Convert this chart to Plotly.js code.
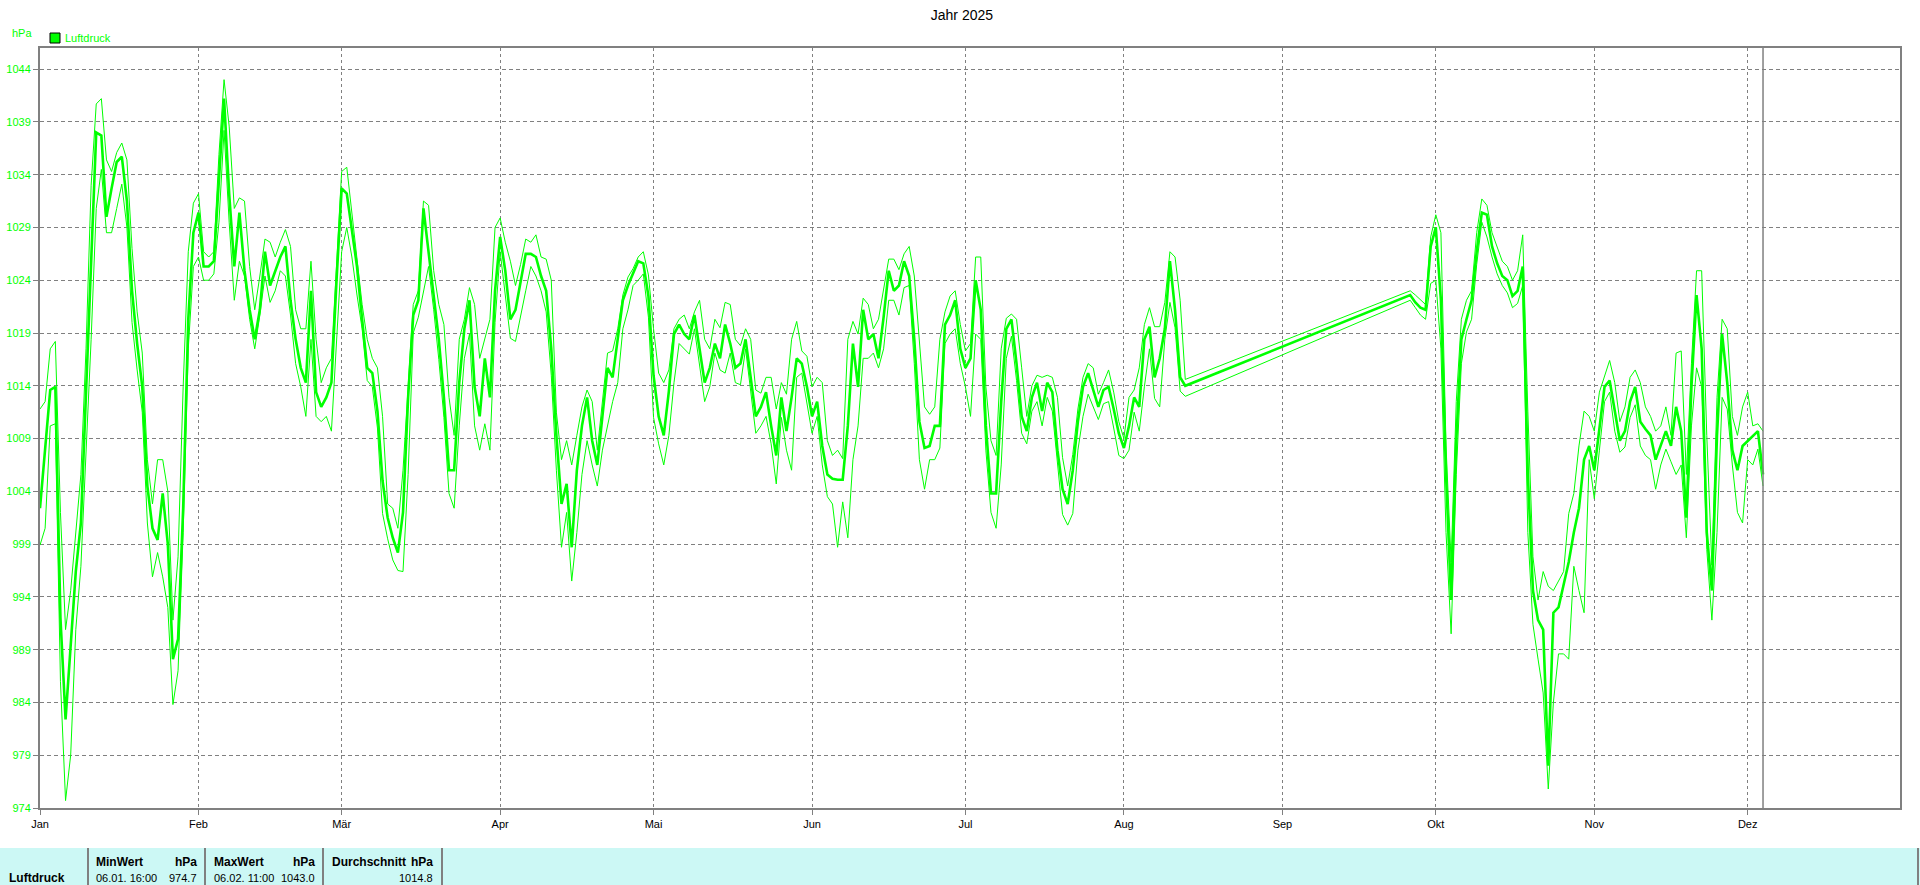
<!DOCTYPE html>
<html>
<head>
<meta charset="utf-8">
<script src="https://cdn.plot.ly/plotly-3.0.1.min.js"></script>
<style>
html,body{margin:0;padding:0;background:#fff;overflow:hidden;}
#chart{width:1920px;height:885px;}
</style>
</head>
<body>
<div id="chart"></div>
<script>
// ---------- DATA ----------
const chartTitle = 'Jahr 2025';
const unitLabel = 'hPa';
const seriesName = 'Luftdruck';
const monthTicks = ['2025-01-01','2025-02-01','2025-03-01','2025-04-01','2025-05-01','2025-06-01','2025-07-01','2025-08-01','2025-09-01','2025-10-01','2025-11-01','2025-12-01'];
const monthLabels = ['Jan','Feb','Mär','Apr','Mai','Jun','Jul','Aug','Sep','Okt','Nov','Dez'];
const yTicks = [974,979,984,989,994,999,1004,1009,1014,1019,1024,1029,1034,1039,1044];

// block 1: daily values from 2025-01-01 to 2025-08-13
const block1Start = '2025-01-01';
const avg1 = [1002.4,1007.9,1013.6,1013.9,992.0,982.4,989.5,996.4,1001.0,1013.9,1027.0,1038.0,1037.7,1030.0,1032.7,1035.2,1035.7,1031.5,1023.0,1018.0,1013.9,1004.5,1000.5,999.4,1003.8,999.0,988.1,990.0,1002.4,1020.3,1028.5,1030.4,1025.3,1025.3,1025.8,1034.0,1041.2,1032.2,1025.3,1030.4,1024.9,1021.2,1018.4,1021.2,1026.7,1023.5,1024.9,1026.2,1027.2,1022.1,1018.4,1015.7,1014.3,1023.0,1013.4,1012.0,1012.9,1014.3,1024.0,1032.7,1032.2,1028.5,1025.3,1020.3,1015.7,1015.2,1011.6,1005.0,1001.5,999.6,998.2,1002.0,1012.9,1020.7,1022.1,1030.8,1026.7,1022.1,1018.4,1012.9,1006.0,1006.0,1014.3,1019.4,1022.1,1013.9,1011.1,1016.6,1012.9,1023.0,1028.1,1024.9,1020.3,1021.2,1024.0,1026.5,1026.5,1026.2,1024.4,1023.0,1017.5,1009.3,1002.8,1004.7,998.7,1006.0,1010.2,1012.9,1008.8,1006.5,1011.1,1015.7,1014.8,1018.4,1022.1,1023.5,1024.7,1025.8,1025.6,1022.5,1015.0,1011.1,1009.3,1013.5,1018.9,1019.8,1018.9,1018.4,1020.7,1017.5,1014.3,1015.7,1018.0,1016.6,1019.8,1018.0,1015.7,1016.1,1018.4,1014.8,1011.1,1012.0,1013.4,1010.2,1007.4,1012.9,1009.7,1012.9,1016.6,1016.1,1013.9,1011.1,1012.5,1008.3,1005.6,1005.2,1005.1,1005.1,1010.2,1018.0,1013.9,1021.2,1018.4,1018.9,1016.6,1020.5,1024.9,1023.0,1023.5,1025.8,1024.4,1018.4,1010.6,1008.1,1008.3,1010.2,1010.2,1019.8,1020.7,1022.1,1017.5,1015.7,1016.6,1024.0,1021.2,1010.2,1003.8,1003.8,1012.5,1019.4,1020.3,1016.1,1011.1,1009.7,1012.9,1014.3,1011.6,1014.3,1013.4,1007.9,1004.2,1002.8,1006.0,1010.6,1013.9,1015.2,1013.6,1012.0,1013.6,1013.9,1011.8,1009.5,1008.1,1010.2,1012.9,1012.0,1018.4,1019.6,1014.8,1016.6,1019.4,1025.8,1021.2,1014.8,1014.0];
const max1 = [1011.8,1012.5,1017.5,1018.2,1002.0,990.9,994.6,1000.1,1005.6,1017.5,1033.0,1040.7,1041.2,1035.4,1034.3,1036.1,1037.0,1035.4,1027.0,1021.0,1017.1,1007.0,1002.8,1007.0,1007.0,1004.0,991.8,997.8,1013.9,1026.7,1031.3,1032.2,1026.7,1026.2,1026.7,1035.9,1043.0,1038.6,1030.8,1031.8,1031.5,1025.3,1021.2,1024.4,1027.9,1027.6,1026.2,1027.6,1028.8,1027.2,1021.2,1019.4,1019.4,1025.8,1018.4,1014.3,1015.7,1016.6,1025.8,1034.3,1034.7,1030.4,1025.8,1021.7,1018.4,1016.6,1015.7,1011.1,1002.8,1002.4,1000.5,1006.0,1013.9,1021.7,1023.0,1031.5,1031.1,1024.9,1021.7,1019.8,1012.9,1009.3,1018.4,1020.3,1023.3,1021.7,1016.6,1018.4,1020.3,1029.0,1029.9,1027.6,1025.8,1023.5,1025.5,1027.9,1027.6,1028.3,1026.2,1026.0,1024.0,1011.5,1007.0,1008.8,1006.5,1009.3,1012.0,1013.6,1012.5,1007.9,1012.5,1017.1,1017.3,1019.4,1022.6,1024.3,1025.1,1026.2,1026.7,1024.5,1019.4,1015.2,1014.3,1015.5,1019.4,1020.3,1020.7,1019.4,1021.0,1022.1,1018.4,1017.5,1020.3,1019.5,1021.9,1021.7,1018.4,1017.8,1019.4,1018.4,1013.6,1013.3,1014.8,1014.8,1011.8,1014.3,1013.2,1018.4,1020.1,1017.3,1016.8,1013.9,1014.8,1014.3,1008.8,1007.4,1007.9,1007.1,1018.4,1020.1,1018.9,1022.3,1021.7,1019.4,1020.3,1023.0,1026.0,1026.0,1025.0,1026.5,1027.2,1024.4,1018.4,1012.0,1011.3,1012.0,1018.4,1021.0,1022.5,1023.0,1019.8,1017.3,1018.0,1026.2,1026.2,1013.9,1008.8,1007.4,1017.5,1020.4,1020.8,1020.3,1015.7,1011.1,1014.0,1015.0,1014.8,1015.0,1014.8,1012.9,1007.2,1004.5,1007.5,1011.8,1014.8,1016.1,1015.7,1013.2,1014.3,1015.5,1013.4,1010.6,1009.0,1012.9,1013.6,1015.7,1019.8,1021.4,1019.6,1019.6,1021.9,1026.7,1026.2,1022.1,1014.6];
const min1 = [998.9,1000.5,1010.2,1010.4,986.0,974.7,979.0,990.9,996.9,1007.0,1018.4,1030.8,1034.5,1028.5,1028.5,1030.8,1033.1,1029.0,1020.0,1015.5,1011.5,1001.0,995.9,998.2,995.9,993.0,983.8,987.0,1000.1,1017.5,1025.3,1026.2,1024.0,1024.0,1024.6,1029.5,1038.2,1029.5,1022.1,1025.8,1024.4,1020.3,1017.5,1020.7,1024.4,1021.9,1023.0,1024.9,1024.4,1020.7,1016.1,1013.9,1011.1,1018.4,1011.1,1010.6,1011.1,1009.7,1018.4,1026.7,1029.0,1026.2,1022.6,1019.4,1014.5,1013.9,1010.0,1001.9,999.5,997.5,996.5,996.4,1005.6,1019.0,1020.5,1023.0,1025.3,1021.2,1016.5,1011.0,1003.8,1002.4,1010.2,1016.6,1018.9,1010.2,1007.9,1010.4,1007.9,1020.0,1026.7,1022.6,1018.5,1018.2,1020.7,1023.0,1025.3,1024.4,1023.0,1021.0,1015.0,1006.0,998.7,1002.0,995.5,1000.1,1005.6,1008.8,1006.5,1004.5,1007.9,1010.2,1012.5,1014.3,1019.4,1021.2,1023.5,1024.0,1024.6,1020.5,1011.0,1008.5,1006.5,1009.3,1014.3,1018.0,1017.5,1017.0,1019.4,1016.0,1012.5,1013.9,1017.1,1015.5,1015.2,1017.1,1014.3,1014.1,1017.5,1013.5,1009.5,1010.2,1011.1,1008.5,1004.7,1011.0,1007.9,1006.0,1014.8,1015.2,1012.5,1009.5,1011.1,1006.5,1003.5,1002.8,998.7,1003.0,999.6,1007.0,1010.2,1016.6,1016.6,1017.1,1015.7,1017.5,1022.1,1022.1,1020.7,1023.3,1023.5,1016.1,1007.0,1004.2,1007.0,1007.0,1008.1,1018.0,1018.9,1019.4,1016.1,1013.9,1011.1,1018.9,1018.4,1007.9,1002.0,1000.5,1006.5,1016.6,1018.7,1014.5,1009.5,1008.5,1011.6,1012.5,1010.2,1012.9,1011.6,1006.5,1001.8,1000.8,1001.9,1007.9,1011.1,1013.2,1012.0,1010.8,1012.3,1012.5,1010.0,1007.4,1007.1,1007.9,1011.5,1009.7,1013.9,1017.5,1012.8,1012.0,1018.4,1021.9,1019.5,1013.5,1013.0];

// block 2: daily values from 2025-09-26 to 2025-12-04
const block2Start = '2025-09-26';
const avg2 = [1022.6,1021.9,1021.4,1021.2,1027.2,1029.0,1022.1,1005.6,993.7,1008.8,1018.4,1020.3,1022.1,1026.7,1030.4,1030.2,1027.2,1025.6,1024.4,1024.0,1022.5,1023.0,1025.3,1005.6,994.6,991.8,990.9,978.0,992.5,993.0,995.0,997.3,1000.1,1002.4,1007.0,1008.3,1006.0,1009.7,1013.9,1014.5,1011.6,1008.8,1009.7,1012.5,1013.9,1010.6,1009.9,1009.3,1007.0,1008.3,1009.7,1008.3,1012.0,1009.7,1001.5,1013.9,1022.6,1017.5,1000.1,994.6,1009.3,1018.9,1014.3,1007.9,1006.0,1008.3,1008.8,1009.3,1009.7,1005.6];
const max2 = [1023.0,1022.6,1022.1,1021.7,1028.1,1030.2,1028.5,1008.3,997.3,1012.5,1020.3,1022.1,1023.0,1028.5,1031.7,1031.1,1028.5,1027.2,1025.8,1025.3,1024.0,1024.9,1028.3,1011.6,997.8,993.7,996.4,995.0,994.6,995.5,996.4,1001.9,1003.8,1008.3,1011.6,1011.1,1009.7,1013.4,1014.8,1016.4,1014.3,1010.6,1012.0,1014.8,1015.5,1014.3,1012.0,1011.1,1009.7,1010.2,1012.0,1009.3,1017.1,1017.3,1005.6,1016.1,1024.9,1024.9,1009.3,997.0,1012.9,1020.3,1019.4,1011.1,1009.3,1012.0,1013.4,1010.2,1010.4,1009.7];
const min2 = [1022.1,1021.4,1020.7,1020.3,1023.7,1024.0,1017.5,1000.1,990.5,1005.6,1016.1,1019.1,1020.3,1025.5,1029.5,1028.1,1026.2,1024.6,1023.5,1022.8,1021.4,1021.8,1023.5,1000.1,991.4,988.1,984.9,975.8,984.0,988.6,988.6,988.1,996.9,994.6,992.5,1007.0,1003.3,1007.9,1012.5,1013.4,1009.7,1007.7,1008.2,1011.0,1012.2,1008.3,1007.4,1007.0,1004.2,1006.5,1008.0,1006.8,1005.6,1006.5,999.6,1010.2,1015.7,1013.9,998.5,991.8,1000.1,1012.9,1011.8,1006.5,1002.0,1001.0,1007.0,1006.5,1008.0,1004.5];

const nowMark = '2025-12-04';

// statistics table
const statRowLabel = 'Luftdruck';
const statHeaders = ['MinWert','MaxWert','Durchschnitt'];
const statTimes = ['06.01. 16:00','06.02. 11:00',''];
const statValues = ['974.7','1043.0','1014.8'];

// ---------- BUILD ----------
function dates(start, n){
  const t0 = Date.parse(start + 'T00:00:00Z');
  const out = [];
  for(let i=0;i<n;i++){ out.push(new Date(t0 + i*86400000).toISOString().slice(0,10)); }
  return out;
}
const x1 = dates(block1Start, avg1.length);
const x2 = dates(block2Start, avg2.length);
const X = x1.concat(x2);
const AVG = avg1.concat(avg2), MAX = max1.concat(max2), MIN = min1.concat(min2);

const GREEN = '#00FF00', GRAY = '#808080';
const FONT = 'Liberation Sans, Arial, sans-serif';

const L = 40, R = 1900, T = 48, B = 808;
const px = v => (v - L) / (R - L);
const py = v => (B - v) / (B - T);

const traces = [
  {x: X, y: MAX, type:'scatter', mode:'lines', line:{color:GREEN, width:1}, hoverinfo:'skip', name:'max'},
  {x: X, y: MIN, type:'scatter', mode:'lines', line:{color:GREEN, width:1}, hoverinfo:'skip', name:'min'},
  {x: X, y: AVG, type:'scatter', mode:'lines', line:{color:GREEN, width:2.6}, hoverinfo:'skip', name:seriesName}
];

const shapes = [
  {type:'line', xref:'x', yref:'paper', x0:nowMark, x1:nowMark, y0:0, y1:1, line:{color:GRAY, width:1.5}, layer:'above'},
  {type:'rect', xref:'paper', yref:'paper', x0:px(50), x1:px(60), y0:py(43), y1:py(33), fillcolor:GREEN, line:{color:'#000', width:1}},
  {type:'rect', xref:'paper', yref:'paper', x0:px(0), x1:px(1920), y0:py(885), y1:py(848), fillcolor:'#CCF8F5', line:{width:0}, layer:'below'}
];
[88, 205, 323, 442, 1918].forEach(sx => shapes.push({type:'line', xref:'paper', yref:'paper', x0:px(sx), x1:px(sx), y0:py(885), y1:py(848), line:{color:GRAY, width:2}}));

const ann = [];
function txt(text, x, y, anchor, opts){
  ann.push(Object.assign({text:text, xref:'paper', yref:'paper', x:px(x), y:py(y), xanchor:anchor, yanchor:'middle', showarrow:false,
    borderpad:0, font:{family:FONT, size:11, color:'#000'}}, opts||{}));
}
txt(unitLabel, 11, 33, 'left', {font:{family:FONT, size:11, color:GREEN}});
txt(seriesName, 64, 38, 'left', {font:{family:FONT, size:11, color:GREEN}});
const boldFont = {family:FONT, size:12, color:'#000'};
txt('<b>' + statRowLabel + '</b>', 8, 878, 'left', {font:boldFont});
const colL = [95, 213, 331], colR = [198, 316, 434];
for(let i=0;i<3;i++){
  txt('<b>' + statHeaders[i] + '</b>', colL[i], 862, 'left', {font:boldFont});
  txt('<b>' + unitLabel + '</b>', colR[i], 862, 'right', {font:boldFont});
  if(statTimes[i]) txt(statTimes[i].replace(/ /g,'&nbsp;'), colL[i], 878, 'left');
  txt(statValues[i], colR[i], 878, 'right');
}

const layout = {
  width:1920, height:885,
  margin:{l:L, r:1920-R, t:T, b:885-B, pad:0},
  paper_bgcolor:'#fff', plot_bgcolor:'#fff',
  showlegend:false,
  font:{family:FONT, size:11, color:'#000'},
  title:{text:chartTitle, xref:'container', x:0.501, xanchor:'center', yref:'container', y:1-15/885, yanchor:'middle',
         font:{family:FONT, size:14, color:'#000'}},
  xaxis:{type:'date', range:['2025-01-01','2025-12-30 19:00'], tickmode:'array', tickvals:monthTicks, ticktext:monthLabels,
         showgrid:true, gridcolor:GRAY, gridwidth:1, griddash:'3px,3px', ticks:'outside', ticklen:5, tickcolor:GRAY, tickwidth:1,
         showline:true, linecolor:GRAY, linewidth:2, mirror:true, zeroline:false, fixedrange:true,
         tickfont:{family:FONT, size:11, color:'#000'}},
  yaxis:{range:[974,1046], tickmode:'array', tickvals:yTicks, ticktext:yTicks.map(String),
         showgrid:true, gridcolor:GRAY, gridwidth:1, griddash:'4px,3px', ticks:'outside', ticklen:5, tickcolor:GRAY, tickwidth:1,
         showline:true, linecolor:GRAY, linewidth:2, mirror:true, zeroline:false, fixedrange:true,
         tickfont:{family:FONT, size:11, color:GREEN}},
  shapes:shapes,
  annotations:ann
};

Plotly.newPlot('chart', traces, layout, {displayModeBar:false, staticPlot:true});
</script>
</body>
</html>
